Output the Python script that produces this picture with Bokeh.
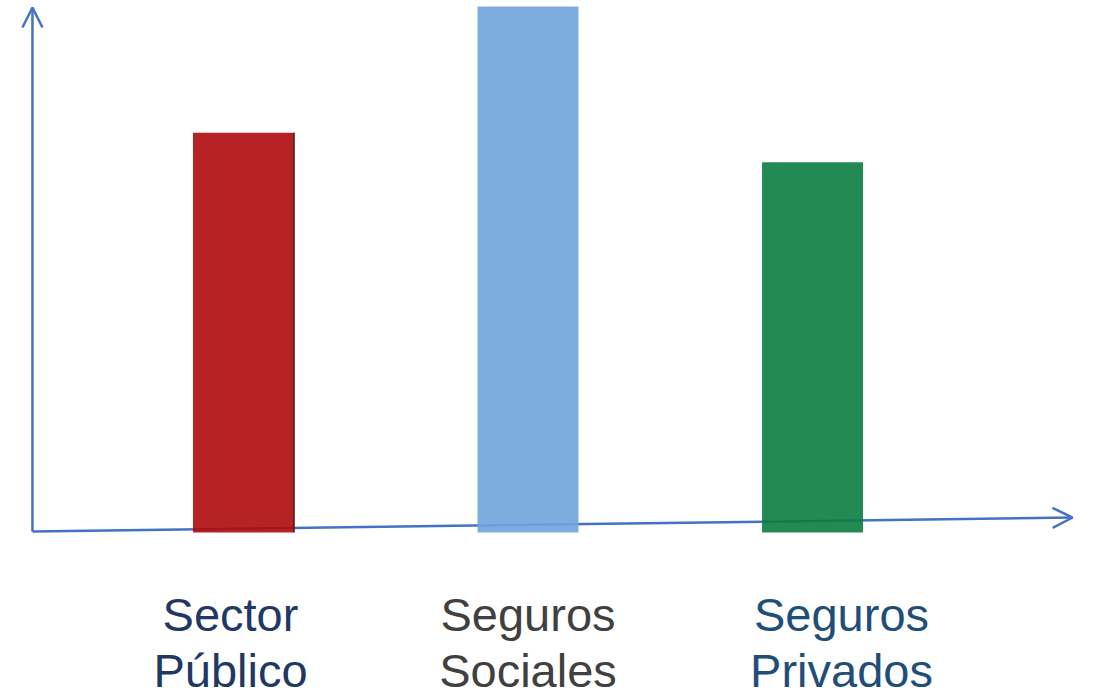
from bokeh.plotting import figure
from bokeh.models import ColumnDataSource, Range1d, Arrow, OpenHead
from bokeh.core.properties import value
from bokeh.embed import file_html
from bokeh.resources import INLINE

# --- data ---
categories = ["Sector\nPúblico", "Seguros\nSociales", "Seguros\nPrivados"]
values = [76, 100, 70.4]
bar_colors = ["#AF0B0D", "#71A3DB", "#0B7D41"]
label_colors = ["#1F3864", "#404040", "#1F4E79"]
label_shift = [-13, 0, 29]

idx = list(range(len(categories)))
bar_w = 0.355

src = ColumnDataSource(dict(x=idx, top=values, color=bar_colors))
lab = ColumnDataSource(dict(x=idx, text=categories, color=label_colors,
                            dx=label_shift, y=[-10.6] * len(idx)))

p = figure(width=1094, height=694, output_backend="svg", toolbar_location=None,
           x_range=Range1d(-0.854, 2.991), y_range=Range1d(-30.8, 101.14),
           x_axis_type=None, y_axis_type=None, min_border=0)
p.outline_line_color = None
p.grid.visible = False
p.background_fill_color = "white"
p.border_fill_color = "white"

axis_color = "#4472C4"
# y axis arrow
p.add_layout(Arrow(x_start=-0.7417, y_start=0.19, x_end=-0.7417, y_end=99.8,
                   line_color=axis_color, line_width=2.5,
                   end=OpenHead(size=20, line_color=axis_color, line_width=2.5),
                   level="underlay"))
# x axis arrow (slightly tilted)
p.add_layout(Arrow(x_start=-0.7417, y_start=0.19, x_end=2.914, y_end=2.85,
                   line_color=axis_color, line_width=2.5,
                   end=OpenHead(size=20, line_color=axis_color, line_width=2.5),
                   level="underlay"))

p.vbar(x="x", top="top", bottom=0, width=bar_w, source=src,
       fill_color="color", fill_alpha=0.9, line_color=None)

# thin dark shading on the right edge of the first (red) bar
p.segment(x0=idx[0] + bar_w / 2, y0=0, x1=idx[0] + bar_w / 2, y1=values[0],
          line_color="#4A1F1F", line_width=2, line_alpha=0.8)

p.text(x="x", y="y", text="text", source=lab, x_offset="dx",
       text_color="color", text_font=value("Liberation Sans"),
       text_font_size="47px", text_align="center", text_baseline="top",
       text_line_height=1.06)

open("out.html", "w").write(file_html(p, INLINE))
